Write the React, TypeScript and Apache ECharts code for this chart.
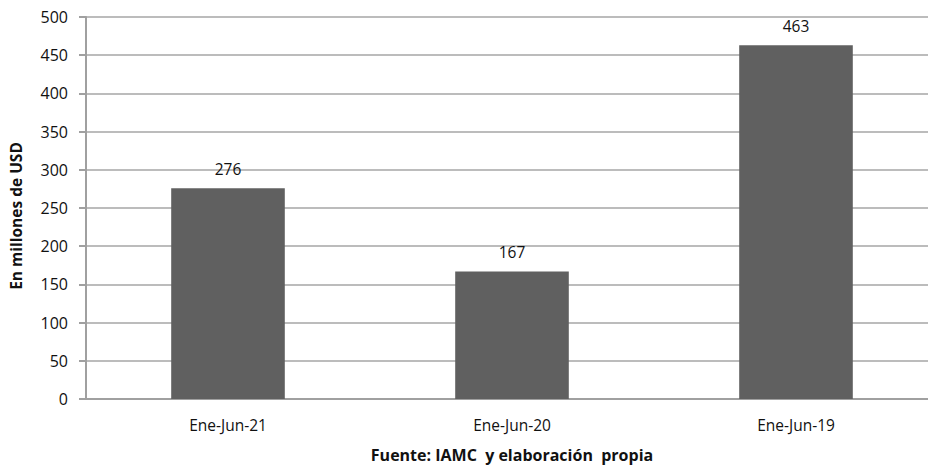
import React, { useEffect, useRef } from "react";
import * as echarts from "echarts";

const categories = ["Ene-Jun-21", "Ene-Jun-20", "Ene-Jun-19"];
const values = [276, 167, 463];
const yAxisName = "En millones de USD";
const sourceText = "Fuente: IAMC  y elaboración  propia";

export default function App() {
  const ref = useRef<HTMLDivElement>(null);
  useEffect(() => {
    if (!ref.current) return;
    const chart = echarts.init(ref.current, undefined, { renderer: "svg" });
    const font = "'Open Sans', 'Noto Sans', sans-serif";
    chart.setOption({
      animation: false,
      backgroundColor: "#ffffff",
      textStyle: { fontFamily: font },
      grid: { left: 86, right: 2, top: 17, bottom: 71, containLabel: false },
      xAxis: {
        type: "category",
        data: categories,
        name: sourceText,
        nameLocation: "middle",
        nameGap: 48,
        nameTextStyle: { color: "#111", fontSize: 16, fontWeight: "bold", fontFamily: font },
        axisLine: { lineStyle: { color: "#a0a0a0", width: 2 } },
        axisTick: { show: false },
        axisLabel: { color: "#111", fontSize: 15.5, margin: 18, fontFamily: font },
      },
      yAxis: {
        type: "value",
        min: 0,
        max: 500,
        interval: 50,
        name: yAxisName,
        nameLocation: "middle",
        nameGap: 62,
        nameTextStyle: {
          color: "#111",
          fontSize: 15.5,
          fontWeight: "bold",
          fontFamily: font,
          padding: [0, 16, 0, 0],
        },
        axisLine: { show: true, lineStyle: { color: "#a0a0a0", width: 2 } },
        axisTick: { show: true, length: 7, lineStyle: { color: "#a0a0a0", width: 2 } },
        axisLabel: { color: "#111", fontSize: 16, margin: 18, fontFamily: font },
        splitLine: { lineStyle: { color: "#a6a6a6", width: 1.5 } },
      },
      series: [
        {
          type: "bar",
          data: values,
          barWidth: "40%",
          itemStyle: { color: "#606060" },
          label: {
            show: true,
            position: "top",
            distance: 11,
            color: "#111",
            fontSize: 15.5,
            fontFamily: font,
          },
        },
      ],
    });
    return () => chart.dispose();
  }, []);
  return (
    <div
      style={{
        position: "fixed",
        left: 0,
        top: 0,
        width: 928,
        height: 470,
        overflow: "hidden",
        background: "#ffffff",
      }}
    >
      <div ref={ref} style={{ width: 940, height: 470 }} />
    </div>
  );
}
